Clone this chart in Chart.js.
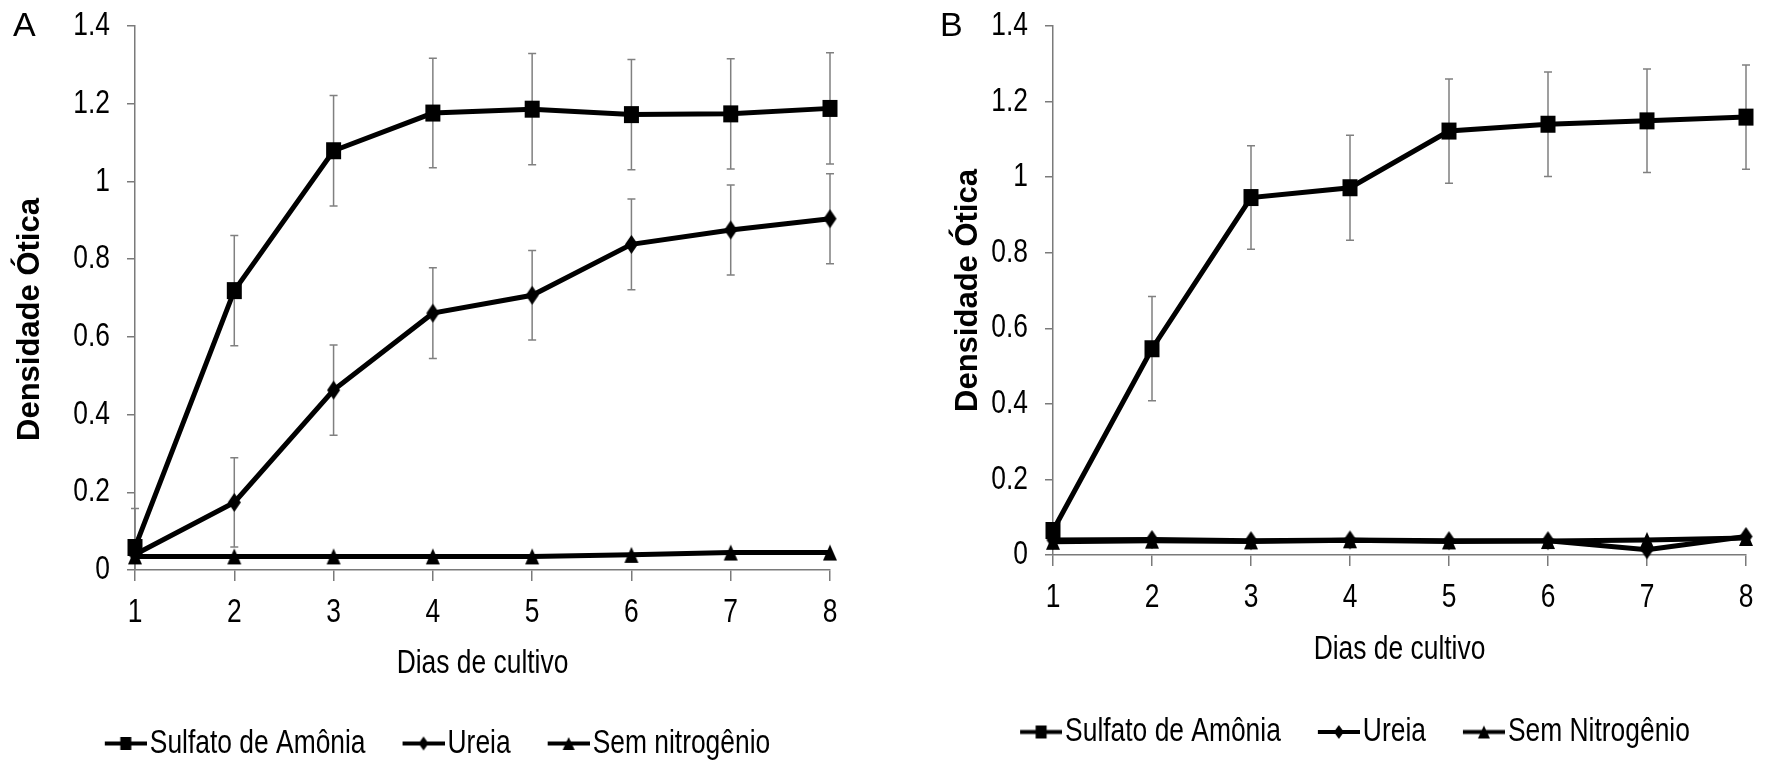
<!DOCTYPE html>
<html>
<head>
<meta charset="utf-8">
<script src="https://cdn.jsdelivr.net/npm/chart.js@4.4.1/dist/chart.umd.min.js"></script>
<style>
html,body{margin:0;padding:0;background:#fff;overflow:hidden;width:1766px;height:764px;position:relative;}
.panel{position:absolute;top:0;width:883px;height:770px;}
.panel canvas{display:block;}
#wrapA{left:0;}
#wrapB{left:883px;}
.lbl{position:absolute;font-family:'Liberation Sans',Arial,sans-serif;font-size:34px;line-height:34px;color:#000;}
</style>
</head>
<body>
<div class="panel" id="wrapA"><canvas id="chartA" width="883" height="770"></canvas></div>
<div class="panel" id="wrapB"><canvas id="chartB" width="883" height="770"></canvas></div>
<div class="lbl" style="left:13px;top:7px">A</div>
<div class="lbl" style="left:940px;top:7px">B</div>
<script>
// ---------- data ----------
const days = ['1','2','3','4','5','6','7','8'];
const yTickLabels = ['0','0.2','0.4','0.6','0.8','1','1.2','1.4'];
const namesA = ['Sulfato de Amônia','Ureia','Sem nitrogênio'];
const namesB = ['Sulfato de Amônia','Ureia','Sem Nitrogênio'];
const xTitle = 'Dias de cultivo';
const yTitle = 'Densidade Ótica';

const sulfatoA    = [0.058,0.719,1.079,1.176,1.186,1.172,1.174,1.188];
const sulfatoErrA = [0,0.142,0.142,0.141,0.143,0.142,0.142,0.143];
const ureiaA      = [0.040,0.174,0.463,0.661,0.707,0.838,0.875,0.904];
const ureiaErrA   = [0.118,0.115,0.116,0.117,0.115,0.117,0.116,0.116];
const semA        = [0.035,0.035,0.035,0.035,0.035,0.039,0.045,0.045];

const sulfatoB    = [0.065,0.546,0.946,0.972,1.122,1.140,1.149,1.159];
const sulfatoErrB = [0,0.138,0.137,0.139,0.138,0.138,0.137,0.138];
const ureiaB      = [0.040,0.041,0.038,0.040,0.038,0.038,0.014,0.049];
const semB        = [0.035,0.038,0.036,0.039,0.036,0.037,0.040,0.045];

// ---------- styling ----------
const FONT_NARROW = "'Liberation Sans Narrow','Liberation Sans',Arial,sans-serif";
const FONT_REG = "'Liberation Sans',Arial,sans-serif";
const AX = '#7a7a7a';
const NARROW_K = 0.8;

// horizontally condensed rendering for the "Narrow" font (not installed)
function condense(canvas, k) {
  const ctx = canvas.getContext('2d');
  const ft = ctx.fillText.bind(ctx);
  const mt = ctx.measureText.bind(ctx);
  const isN = () => /Narrow/.test(ctx.font);
  ctx.fillText = function (t, x, y, mw) {
    if (!isN()) { return mw === undefined ? ft(t, x, y) : ft(t, x, y, mw); }
    ctx.save(); ctx.translate(x, y); ctx.scale(k, 1); ft(t, 0, 0); ctx.restore();
  };
  ctx.measureText = function (t) {
    const m = mt(t);
    if (!isN()) return m;
    return {
      width: m.width * k,
      actualBoundingBoxLeft: m.actualBoundingBoxLeft * k,
      actualBoundingBoxRight: m.actualBoundingBoxRight * k,
      actualBoundingBoxAscent: m.actualBoundingBoxAscent,
      actualBoundingBoxDescent: m.actualBoundingBoxDescent,
      fontBoundingBoxAscent: m.fontBoundingBoxAscent,
      fontBoundingBoxDescent: m.fontBoundingBoxDescent
    };
  };
}

function makeMarker(kind, w, h, lineLen, lineMargin) {
  const c = document.createElement('canvas');
  const W = lineLen ? lineLen + lineMargin : w + 2;
  const H = h + 2;
  c.width = W; c.height = H;
  const g = c.getContext('2d');
  const cx = lineLen ? lineMargin + lineLen / 2 : W / 2;
  const cy = H / 2;
  g.fillStyle = '#000';
  if (lineLen) g.fillRect(lineMargin, cy - 2, lineLen, 4);
  g.beginPath();
  if (kind === 'square') {
    g.rect(cx - w / 2, cy - h / 2, w, h);
  } else if (kind === 'diamond') {
    g.moveTo(cx, cy - h / 2); g.lineTo(cx + w / 2, cy); g.lineTo(cx, cy + h / 2); g.lineTo(cx - w / 2, cy); g.closePath();
  } else {
    g.moveTo(cx, cy - h / 2); g.lineTo(cx + w / 2, cy + h / 2); g.lineTo(cx - w / 2, cy + h / 2); g.closePath();
  }
  g.fill();
  return c;
}

const mk = {
  square: makeMarker('square', 15, 17),
  diamond: makeMarker('diamond', 13, 19),
  triangle: makeMarker('triangle', 14, 16)
};
const lg = {
  square: makeMarker('square', 11, 13, 42, 49),
  diamond: makeMarker('diamond', 10, 14, 42, 49),
  triangle: makeMarker('triangle', 12, 13, 42, 49)
};

const errorBarPlugin = {
  id: 'errorBars',
  beforeDatasetsDraw(chart) {
    const {ctx, chartArea} = chart;
    const xs = chart.scales.x, ys = chart.scales.y;
    ctx.save();
    ctx.beginPath();
    ctx.rect(chartArea.left - 10, chartArea.top - 10, chartArea.width + 20, chartArea.height + 10);
    ctx.clip();
    ctx.strokeStyle = '#808080';
    ctx.lineWidth = 1.5;
    chart.data.datasets.forEach(ds => {
      if (!ds.errors) return;
      ds.data.forEach((v, i) => {
        const e = ds.errors[i];
        if (!e) return;
        const x = xs.getPixelForValue(i);
        const yT = ys.getPixelForValue(v + e);
        const yB = ys.getPixelForValue(Math.max(0, v - e));
        ctx.beginPath();
        ctx.moveTo(x, yT); ctx.lineTo(x, yB);
        ctx.moveTo(x - 4, yT); ctx.lineTo(x + 4, yT);
        if (v - e > 0) { ctx.moveTo(x - 4, yB); ctx.lineTo(x + 4, yB); }
        ctx.stroke();
      });
    });
    ctx.restore();
  }
};

function ds(label, data, errors, kind) {
  return {
    label, data, errors,
    borderColor: '#000', borderWidth: 5, tension: 0,
    pointStyle: mk[kind], pointRadius: 6, pointHoverRadius: 6,
    backgroundColor: '#000', clip: false,
    legendMarker: lg[kind]
  };
}

function makeChart(id, o) {
  const canvas = document.getElementById(id);
  condense(canvas, NARROW_K);
  return new Chart(canvas, {
    type: 'line',
    data: { labels: days, datasets: o.datasets },
    options: {
      responsive: false,
      animation: false,
      events: [],
      layout: { padding: { left: o.padL, right: o.padR, top: 26, bottom: o.padB } },
      plugins: {
        tooltip: { enabled: false },
        legend: {
          position: 'bottom',
          labels: {
            usePointStyle: true,
            pointStyleWidth: 64,
            padding: 1.5,
            color: '#000',
            font: { family: FONT_NARROW, size: 33 },
            generateLabels: (chart) => chart.data.datasets.map((d, i) => ({
              text: d.label, fillStyle: '#000', strokeStyle: '#000', lineWidth: 0,
              pointStyle: d.legendMarker, datasetIndex: i, hidden: false, fontColor: '#000'
            }))
          }
        }
      },
      scales: {
        x: {
          type: 'category',
          offset: false,
          grid: { drawOnChartArea: false, drawTicks: true, tickLength: 11, color: AX, lineWidth: 1.5 },
          border: { display: true, color: AX, width: 1.5 },
          ticks: { color: '#000', font: { family: FONT_NARROW, size: 33 }, padding: 12, maxRotation: 0, autoSkip: false },
          title: { display: true, text: xTitle, color: '#000', font: { family: FONT_NARROW, size: 33, lineHeight: 1 }, padding: { top: 0, bottom: o.xTitlePad } },
          afterFit: s => { s.height = o.xH; }
        },
        y: {
          min: 0, max: 1.4,
          grid: { drawOnChartArea: false, drawTicks: true, tickLength: 8, color: AX, lineWidth: 1.5 },
          border: { display: true, color: AX, width: 1.5 },
          ticks: { stepSize: 0.2, color: '#000', font: { family: FONT_NARROW, size: 33, lineHeight: 0.5 }, padding: 17,
                   callback: (v, i) => yTickLabels[i] },
          title: { display: true, text: o.yTitle, color: '#000', font: { family: FONT_REG, size: 31, weight: 'bold', lineHeight: 1 }, padding: { top: o.yTitlePad, bottom: 0 } },
          afterFit: s => { s.width = o.yW; }
        }
      }
    },
    plugins: [errorBarPlugin]
  });
}

makeChart('chartA', {
  datasets: [
    ds(namesA[0], sulfatoA, sulfatoErrA, 'square'),
    ds(namesA[1], ureiaA, ureiaErrA, 'diamond'),
    ds(namesA[2], semA, null, 'triangle')
  ],
  padL: 9.5, padR: 53, padB: 0, yW: 125.5, xH: 155.5, xTitlePad: 45, yTitlePad: 5,
  yTitle: yTitle + '\u00A0\u00A0\u00A0\u00A0\u00A0'
});

makeChart('chartB', {
  datasets: [
    ds(namesB[0], sulfatoB, sulfatoErrB, 'square'),
    ds(namesB[1], ureiaB, null, 'diamond'),
    ds(namesB[2], semB, null, 'triangle')
  ],
  padL: 45.5, padR: 20, padB: 11.5, yW: 124.5, xH: 159, xTitlePad: 47.5, yTitlePad: 24,
  yTitle: yTitle
});
</script>
</body>
</html>
